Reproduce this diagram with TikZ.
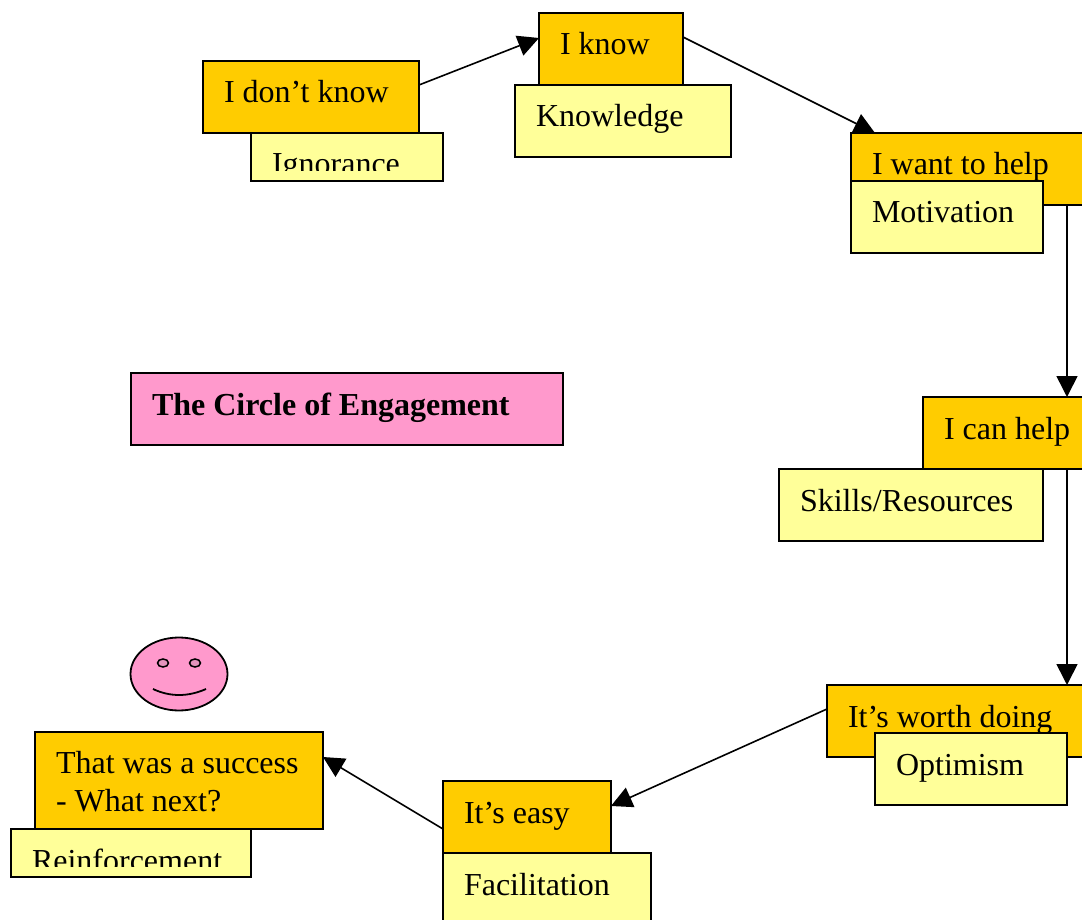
\documentclass[tikz,border=0pt]{standalone}
\usepackage{fontspec}
\setmainfont{Liberation Serif}
\usetikzlibrary{arrows.meta, backgrounds, shapes.geometric}

\definecolor{stagefill}{HTML}{FFCC00}
\definecolor{notefill}{HTML}{FFFF99}
\definecolor{titlefill}{HTML}{FF99CC}

\begin{document}
\begin{tikzpicture}[x=1pt, y=-1pt, font=\fontsize{32}{38}\selectfont]
    \tikzstyle{box} = [draw, line width=1.8pt, anchor=north west, align=flush left, outer sep=0pt, inner ysep=0pt, inner xsep=21pt, text height=42pt, text depth=30pt];
    \tikzstyle{stage} = [box, fill=stagefill];
    \tikzstyle{note} = [box, fill=notefill];
    \tikzstyle{heading} = [box, fill=titlefill, font=\fontsize{32}{38}\selectfont\bfseries];
    \tikzstyle{short} = [text depth=6pt];
    \tikzstyle{cuttext} = [box, short, draw=none];
    \tikzstyle{link} = [line width=1.6pt, -{Triangle[length=21pt, width=21pt]}];

    \useasboundingbox (0, 0) rectangle (1082, 920);
    \clip (0, 0) rectangle (1082, 920);

    \node[stage, text width=174pt] (dontknow) at (203, 61) {I don’t know};
    \node[stage, text width=102pt] (know) at (539, 13) {I know};
    \node[stage, text width=198pt] (want) at (851, 133) {I want to help};
    \node[stage, text width=150pt] (can) at (923, 397) {I can help};
    \node[stage, text width=222pt] (worth) at (827, 685) {It’s worth doing};
    \node[stage, text width=126pt] (easy) at (443, 781) {It’s easy};
    \node[stage, text width=246pt, text height=41pt, text depth=56pt] (success) at (35, 732) {That was a success\\- What next?};

    \node[note, short, text width=150pt] (ignorance) at (251, 133) {};
    \begin{scope}
        \clip (ignorance.north west) rectangle ([yshift=10pt]ignorance.south east);
        \node[cuttext, text width=150pt] (ignorancetext) at (ignorance.north west) {Ignorance};
    \end{scope}
    \node[note, text width=174pt] (knowledge) at (515, 85) {Knowledge};
    \node[note, text width=150pt] (motivation) at (851, 181) {Motivation};
    \node[note, text width=222pt] (skills) at (779, 469) {Skills/Resources};
    \node[note, text width=150pt] (optimism) at (875, 733) {Optimism};
    \node[note, text width=166pt] (facilitation) at (443, 853) {Facilitation};
    \node[note, short, text width=198pt] (reinforcement) at (11, 829) {};
    \begin{scope}
        \clip (reinforcement.north west) rectangle ([yshift=11pt]reinforcement.south east);
        \node[cuttext, text width=198pt] (reinforcementtext) at (reinforcement.north west) {Reinforcement};
    \end{scope}

    \node[heading, text width=390pt] (title) at (131, 373) {The Circle of Engagement};

    \node[draw, ellipse, line width=1.8pt, fill=titlefill, inner sep=0pt, minimum width=97pt, minimum height=73pt] (face) at (179, 674) {};
    \node[draw, ellipse, line width=1.5pt, fill=titlefill!80!gray, inner sep=0pt, minimum width=11pt, minimum height=8pt] (lefteye) at (163, 663) {};
    \node[draw, ellipse, line width=1.5pt, fill=titlefill!80!gray, inner sep=0pt, minimum width=11pt, minimum height=8pt] (righteye) at (195, 663) {};
    \draw[line width=1.8pt] ([shift={(-26, 15)}]face.center) .. controls ([shift={(-9, 23)}]face.center) and ([shift={(9, 23)}]face.center) .. ([shift={(27, 15)}]face.center);

    \begin{pgfonlayer}{background}
        \draw[link] ([yshift=12pt]dontknow.east) -- ([yshift=11pt]know.west);
        \draw[link] ([yshift=12pt]know.east) -- ([xshift=24pt]want.north west);
        \draw[link] ([xshift=-24pt]want.south east) -- ([xshift=-48pt]can.north east);
        \draw[link] ([xshift=-48pt]can.south east) -- ([xshift=-24pt]worth.north east);
        \draw[link] ([yshift=12pt]worth.west) -- ([yshift=11pt]easy.east);
        \draw[link] ([yshift=-12pt]easy.west) -- ([yshift=23.5pt]success.east);
    \end{pgfonlayer}
\end{tikzpicture}
\end{document}
